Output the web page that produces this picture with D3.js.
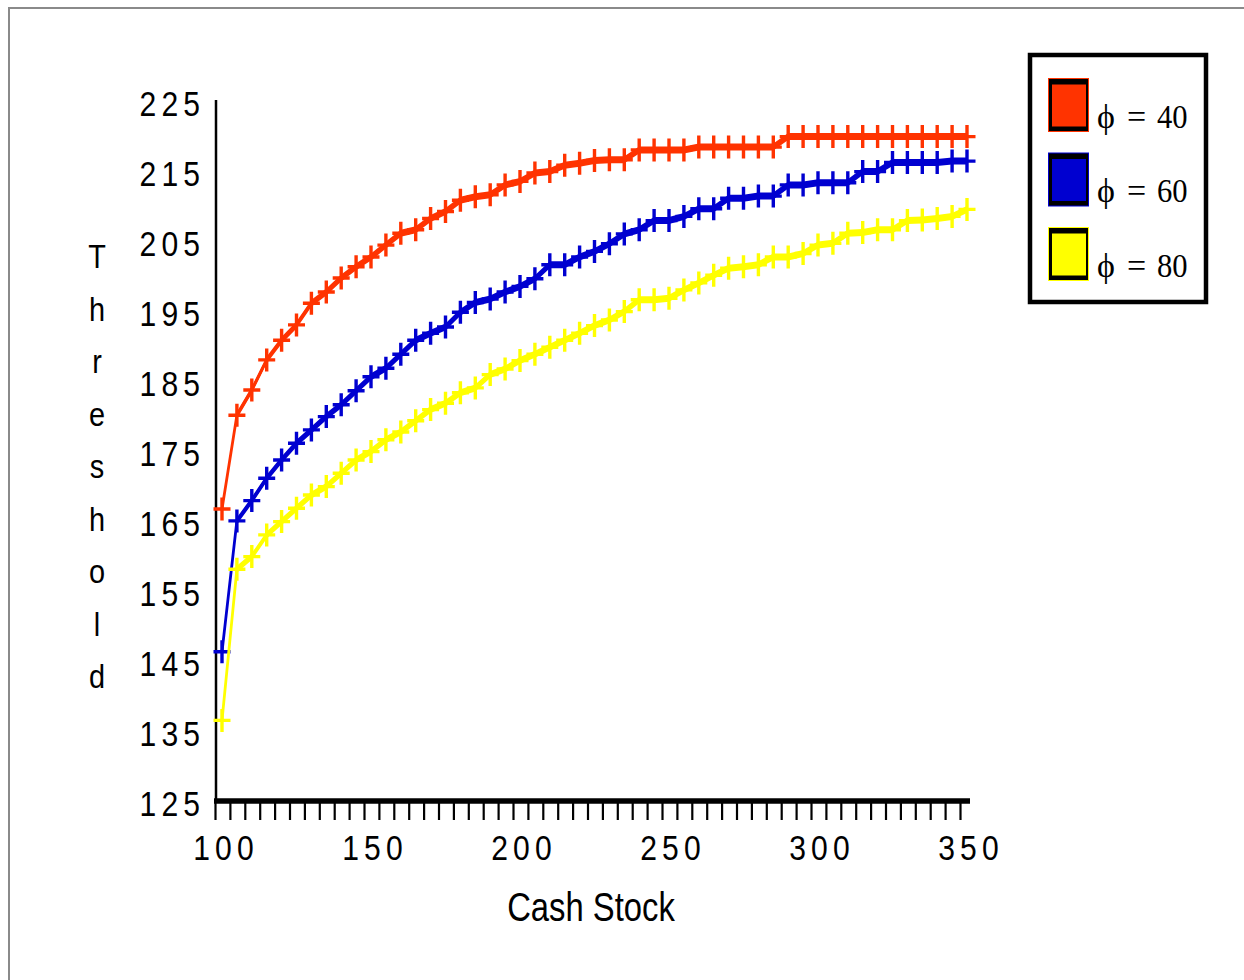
<!DOCTYPE html>
<html>
<head>
<meta charset="utf-8">
<script src="https://cdn.jsdelivr.net/npm/d3@7"></script>
<style>
  body { margin: 0; background: #fff; }
  svg { display: block; }
  .sans { font-family: "Liberation Sans", Arial, sans-serif; }
  .serif { font-family: "Liberation Serif", "Times New Roman", "DejaVu Serif", serif; }
</style>
</head>
<body>
<div id="chart"></div>
<script>
// ====================
// DATA
// ====================
const cashStock = [100, 105, 110, 115, 120, 125, 130, 135, 140, 145,
  150, 155, 160, 165, 170, 175, 180, 185, 190, 195,
  200, 205, 210, 215, 220, 225, 230, 235, 240, 245,
  250, 255, 260, 265, 270, 275, 280, 285, 290, 295,
  300, 305, 310, 315, 320, 325, 330, 335, 340, 345, 350];

// threshold for phi = 40
const phi40 = [167.0, 180.4, 184.0, 188.3, 191.1, 193.3, 196.4, 198.0, 200.0, 201.6,
  203.0, 204.7, 206.4, 206.9, 208.5, 209.5, 211.1, 211.6, 211.9, 213.3,
  213.8, 215.0, 215.2, 216.1, 216.4, 216.8, 216.9, 216.9, 218.3, 218.3,
  218.3, 218.3, 218.7, 218.7, 218.7, 218.7, 218.7, 218.7, 220.2, 220.2,
  220.2, 220.2, 220.2, 220.2, 220.2, 220.2, 220.2, 220.2, 220.2, 220.2, 220.2];

// threshold for phi = 60
const phi60 = [146.6, 165.3, 168.2, 171.4, 174.0, 176.4, 178.3, 180.2, 181.9, 183.9,
  185.9, 187.1, 189.1, 191.1, 192.1, 193.0, 195.1, 196.5, 197.0, 198.0,
  198.8, 199.9, 201.9, 201.9, 203.0, 203.8, 204.9, 206.3, 206.9, 208.2,
  208.2, 208.8, 209.9, 209.9, 211.4, 211.4, 211.7, 211.7, 213.3, 213.3,
  213.6, 213.6, 213.6, 215.2, 215.2, 216.5, 216.5, 216.5, 216.5, 216.7, 216.7];

// threshold for phi = 80
const phi80 = [136.8, 158.4, 160.2, 163.3, 165.2, 167.1, 169.0, 170.2, 172.1, 174.0,
  175.2, 176.9, 178.0, 179.6, 181.2, 182.1, 183.6, 184.3, 186.2, 187.0,
  188.2, 189.1, 190.1, 191.1, 192.1, 193.2, 194.0, 195.2, 196.9, 196.9,
  197.1, 198.3, 199.3, 200.4, 201.4, 201.6, 201.9, 203.0, 203.0, 203.5,
  204.7, 204.95, 206.4, 206.5, 206.9, 206.9, 208.2, 208.3, 208.5, 208.8, 209.8];

const phiValues = [40, 60, 80];
const seriesColors = ['#ff3300', '#0000d0', '#ffff00'];

const yTicks = [125, 135, 145, 155, 165, 175, 185, 195, 205, 215, 225];
const xLabels = [100, 150, 200, 250, 300, 350];
const yTitle = 'Threshold';
const xTitle = 'Cash Stock';

// ====================
// SETUP
// ====================
const width = 1244;
const height = 980;
const squeeze = 0.82;     // narrow sans look of the original (titles)
const tickSqueeze = 0.86; // tick labels

const x = d3.scaleLinear().domain([100, 350]).range([222, 967]);
const y = d3.scaleLinear().domain([125, 225]).range([803, 103]);

const svg = d3.select('#chart')
  .append('svg')
  .attr('width', width)
  .attr('height', height);

// outer frame
svg.append('path')
  .attr('d', `M9,${height} V8 H${width}`)
  .attr('fill', 'none')
  .attr('stroke', '#8a8a8a')
  .attr('stroke-width', 2);

// ====================
// AXES
// ====================
// minor ticks (drawn a little left of the data positions, as in the original)
const xTickAxis = d3.axisBottom(x)
  .tickValues(cashStock)
  .tickSize(17)
  .tickFormat('');

svg.append('g')
  .attr('transform', 'translate(-7,803)')
  .call(xTickAxis)
  .call(g => g.select('.domain').remove())
  .call(g => g.selectAll('.tick line').attr('stroke', '#000').attr('stroke-width', 2.2));

// x axis line
svg.append('line')
  .attr('x1', 214).attr('x2', 970)
  .attr('y1', 801).attr('y2', 801)
  .attr('stroke', '#000')
  .attr('stroke-width', 5.5);

// y axis line
svg.append('line')
  .attr('x1', 216).attr('x2', 216)
  .attr('y1', 100).attr('y2', 803)
  .attr('stroke', '#000')
  .attr('stroke-width', 2.5);

// x labels
svg.append('g')
  .attr('transform', 'translate(3.5,802)')
  .call(d3.axisBottom(x).tickValues(xLabels).tickSize(0).tickPadding(0))
  .call(g => g.select('.domain').remove())
  .call(g => g.selectAll('text')
    .attr('class', 'sans')
    .attr('font-size', 35)
    .attr('letter-spacing', 6)
    .attr('y', 58)
    .attr('dy', null)
    .attr('transform', `scale(${tickSqueeze},1)`)
    .attr('fill', '#000'));

// y labels
svg.append('g')
  .attr('transform', 'translate(216,0)')
  .call(d3.axisLeft(y).tickValues(yTicks).tickSize(0).tickPadding(12.5))
  .call(g => g.select('.domain').remove())
  .call(g => g.selectAll('text')
    .attr('class', 'sans')
    .attr('font-size', 35)
    .attr('letter-spacing', 6)
    .attr('dy', '0.36em')
    .attr('transform', `scale(${tickSqueeze},1)`)
    .attr('fill', '#000'));

// y title, one letter per row
svg.append('g')
  .selectAll('text')
  .data(yTitle.split(''))
  .join('text')
  .attr('class', 'sans')
  .attr('transform', (d, i) => `translate(97,${268 + i * 52.5}) scale(0.85,1)`)
  .attr('text-anchor', 'middle')
  .attr('font-size', 34)
  .attr('fill', '#000')
  .text(d => d);

// x title
svg.append('text')
  .attr('class', 'sans')
  .attr('transform', `translate(591,921) scale(${squeeze},1)`)
  .attr('text-anchor', 'middle')
  .attr('font-size', 40)
  .attr('fill', '#000')
  .text(xTitle);

// ====================
// SERIES
// ====================
const allSeries = [phi40, phi60, phi80].map((vals, i) => ({
  phi: phiValues[i],
  color: seriesColors[i],
  points: cashStock.map((c, j) => ({ c, v: vals[j] }))
}));

const band = d3.area()
  .x(d => x(d.c))
  .y0(d => y(d.v) - 3.5)
  .y1(d => y(d.v) + 3.5);

const line = d3.line()
  .x(d => x(d.c))
  .y(d => y(d.v));

const seriesG = svg.append('g')
  .selectAll('g')
  .data(allSeries)
  .join('g');

seriesG.append('path')
  .attr('d', d => band(d.points))
  .attr('fill', d => d.color);

seriesG.append('path')
  .attr('d', d => line(d.points))
  .attr('fill', 'none')
  .attr('stroke', d => d.color)
  .attr('stroke-width', 2.8);

// plus markers
seriesG.append('path')
  .attr('d', d => d.points.map(p => {
    const px = x(p.c), py = y(p.v);
    return `M${px - 8.5},${py}H${px + 8.5}M${px},${py - 11.5}V${py + 11.5}`;
  }).join(''))
  .attr('fill', 'none')
  .attr('stroke', d => d.color)
  .attr('stroke-width', 3.4);

// ====================
// LEGEND
// ====================
const legend = svg.append('g');

legend.append('rect')
  .attr('x', 1030).attr('y', 55)
  .attr('width', 176).attr('height', 247)
  .attr('fill', '#fff')
  .attr('stroke', '#000')
  .attr('stroke-width', 4.5);

const items = legend.selectAll('g.item')
  .data(allSeries)
  .join('g')
  .attr('class', 'item')
  .attr('transform', (d, i) => `translate(0,${i * 74.5})`);

items.append('rect')
  .attr('x', 1048.5).attr('y', 78.5)
  .attr('width', 40).attr('height', 53)
  .attr('fill', '#000')
  .attr('stroke', d => d.color)
  .attr('stroke-width', 1);

items.append('rect')
  .attr('x', 1052).attr('y', 84.5)
  .attr('width', 34).attr('height', 42)
  .attr('fill', d => d.color);

items.append('text')
  .attr('class', 'serif')
  .attr('x', 1097).attr('y', 127.5)
  .attr('font-size', 34)
  .attr('fill', '#000')
  .text('\u03D5');

items.append('text')
  .attr('class', 'serif')
  .attr('x', 1127).attr('y', 127.5)
  .attr('font-size', 34)
  .attr('fill', '#000')
  .text('=');

items.append('text')
  .attr('class', 'serif')
  .attr('transform', `translate(1157,127.5) scale(0.9,1)`)
  .attr('font-size', 34)
  .attr('fill', '#000')
  .text(d => d.phi);
</script>
</body>
</html>
